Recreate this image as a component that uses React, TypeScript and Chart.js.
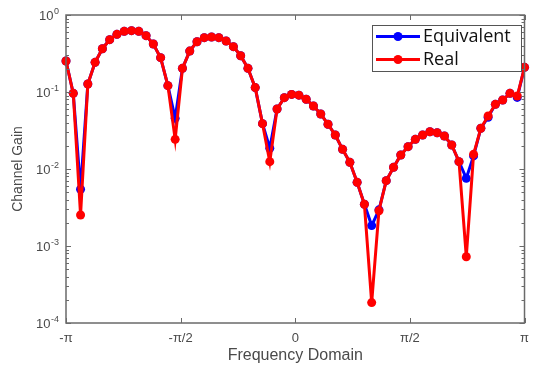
import React, { useEffect, useRef } from "react";
import { Chart, registerables } from "chart.js";

Chart.register(...registerables);

// Frequency grid: 64 uniform samples from -π to π
const sampleCount = 64;
const omega: number[] = Array.from({ length: sampleCount }, (_, k) => -Math.PI + (2 * Math.PI * k) / (sampleCount - 1));

const realGain: number[] = [
  0.253, 0.096, 0.00253, 0.127, 0.243, 0.365, 0.478, 0.561, 0.614, 0.626,
  0.614, 0.539, 0.42, 0.279, 0.121, 0.0243, 0.203, 0.34, 0.45, 0.508,
  0.518, 0.508, 0.46, 0.388, 0.296, 0.203, 0.114, 0.0388, 0.01245, 0.0602,
  0.0844, 0.093, 0.091, 0.0804, 0.0658, 0.0518, 0.0381, 0.0276, 0.018, 0.0122,
  0.00671, 0.00348, 0.000184, 0.00287, 0.00705, 0.0105, 0.0152, 0.0195, 0.0243, 0.0276,
  0.0305, 0.0296, 0.0268, 0.0205, 0.01245, 0.000726, 0.0155, 0.0338, 0.0488, 0.0692,
  0.0787, 0.096, 0.0887, 0.209,
];

const equivalentGain: number[] = [
  0.253, 0.096, 0.00545, 0.127, 0.243, 0.365, 0.478, 0.561, 0.614, 0.626,
  0.614, 0.539, 0.42, 0.279, 0.121, 0.0455, 0.203, 0.34, 0.45, 0.508,
  0.518, 0.508, 0.46, 0.388, 0.296, 0.203, 0.114, 0.0388, 0.0186, 0.0602,
  0.0844, 0.093, 0.091, 0.0804, 0.0658, 0.0518, 0.0381, 0.0276, 0.018, 0.0122,
  0.00671, 0.00348, 0.00184, 0.00295, 0.00705, 0.0105, 0.0152, 0.0195, 0.0243, 0.0276,
  0.0305, 0.0296, 0.0268, 0.0205, 0.01245, 0.00757, 0.0148, 0.0338, 0.047, 0.0692,
  0.0787, 0.096, 0.085, 0.209,
];

const seriesNames = ["Equivalent", "Real"];
const seriesColors = ["#0000ff", "#ff0000"];

const xTickValues = [-Math.PI, -Math.PI / 2, 0, Math.PI / 2, Math.PI];
const xTickLabels = ["-π", "-π/2", "0", "π/2", "π"];

const yMajorValues = [1e-4, 1e-3, 1e-2, 1e-1, 1];
const yMajorBase = ["10", "10", "10", "10", "10"];
const yMajorExponent = ["-4", "-3", "-2", "-1", "0"];

const textColor = "#4a4a4a";
const axisColor = "#6a6a6a";
const fontFamily = "'Liberation Sans', Arial, sans-serif";

function yAllTicks(): number[] {
  const out: number[] = [];
  for (let e = -4; e <= 0; e++) {
    const base = Math.pow(10, e);
    if (e === 0) { out.push(1); break; }
    for (let m = 1; m <= 9; m++) out.push(m * base);
  }
  return out;
}

const framePlugin = {
  id: "matlabFrame",
  afterDraw(chart: any) {
    const { ctx, chartArea } = chart;
    const { left, right, top, bottom } = chartArea;
    const ys = chart.scales.y;
    const xs = chart.scales.x;
    ctx.save();
    ctx.strokeStyle = axisColor;
    ctx.lineWidth = 1.5;
    ctx.strokeRect(left, top, right - left, bottom - top);
    ctx.lineWidth = 1;
    // y ticks (inward, both sides)
    for (const t of ys.ticks) {
      const v = t.value;
      const isMajor = yMajorValues.some((m) => Math.abs(Math.log10(m) - Math.log10(v)) < 1e-6);
      const len = isMajor ? 5 : 3;
      const py = Math.round(ys.getPixelForValue(v)) + 0.5;
      ctx.beginPath();
      ctx.moveTo(left, py);
      ctx.lineTo(left + len, py);
      ctx.moveTo(right, py);
      ctx.lineTo(right - len, py);
      ctx.stroke();
    }
    // x ticks (inward, top and bottom)
    for (const v of xTickValues) {
      const px = Math.round(xs.getPixelForValue(v)) + 0.5;
      ctx.beginPath();
      ctx.moveTo(px, bottom);
      ctx.lineTo(px, bottom - 5);
      ctx.moveTo(px, top);
      ctx.lineTo(px, top + 5);
      ctx.stroke();
    }
    // y tick labels with superscript exponents
    ctx.fillStyle = textColor;
    ctx.textAlign = "left";
    ctx.textBaseline = "alphabetic";
    yMajorValues.forEach((v, i) => {
      const py = ys.getPixelForValue(v);
      ctx.font = `9px ${fontFamily}`;
      const expW = ctx.measureText(yMajorExponent[i]).width;
      ctx.font = `13px ${fontFamily}`;
      const baseW = ctx.measureText(yMajorBase[i]).width;
      const xEnd = left - 7;
      const xStart = xEnd - expW - baseW - 0.5;
      ctx.fillText(yMajorBase[i], xStart, py + 5);
      ctx.font = `9px ${fontFamily}`;
      ctx.fillText(yMajorExponent[i], xStart + baseW + 0.5, py - 1.5);
    });
    ctx.restore();

    // Legend box inside the plot (top-right)
    const boxL = 372, boxT = 25, boxW = 149, boxH = 46;
    ctx.save();
    ctx.fillStyle = "#ffffff";
    ctx.fillRect(boxL, boxT, boxW, boxH);
    ctx.strokeStyle = "#555555";
    ctx.lineWidth = 1;
    ctx.strokeRect(boxL + 0.5, boxT + 0.5, boxW, boxH);
    const rows = [36.5, 59.5];
    chart.data.datasets.forEach((ds: any, i: number) => {
      const y = rows[i];
      ctx.strokeStyle = ds.borderColor;
      ctx.lineWidth = 3;
      ctx.beginPath();
      ctx.moveTo(boxL + 4, y);
      ctx.lineTo(boxL + 48, y);
      ctx.stroke();
      ctx.fillStyle = ds.borderColor;
      ctx.beginPath();
      ctx.arc(boxL + 26, y, 4.5, 0, Math.PI * 2);
      ctx.fill();
      ctx.fillStyle = "#111111";
      ctx.font = "18px 'Open Sans', 'DejaVu Sans', sans-serif";
      ctx.textBaseline = "middle";
      ctx.textAlign = "left";
      ctx.fillText(ds.label, boxL + 51, y + 0.5);
    });
    ctx.restore();
  },
};

export default function App() {
  const canvasRef = useRef<HTMLCanvasElement | null>(null);

  useEffect(() => {
    if (!canvasRef.current) return;
    const chart = new Chart(canvasRef.current, {
      type: "line",
      data: {
        datasets: [
          {
            label: seriesNames[0],
            data: omega.map((x, i) => ({ x, y: equivalentGain[i] })),
            borderColor: seriesColors[0],
            backgroundColor: seriesColors[0],
            borderWidth: 3,
            pointRadius: 4.5,
            pointHoverRadius: 4.5,
            pointBorderWidth: 0,
            tension: 0,
            order: 1,
            clip: false as any,
          },
          {
            label: seriesNames[1],
            data: omega.map((x, i) => ({ x, y: realGain[i] })),
            borderColor: seriesColors[1],
            backgroundColor: seriesColors[1],
            borderWidth: 3,
            pointRadius: 4.5,
            pointHoverRadius: 4.5,
            pointBorderWidth: 0,
            tension: 0,
            order: 0,
            clip: false as any,
          },
        ],
      },
      options: {
        animation: false,
        responsive: false,
        events: [],
        layout: { padding: { top: 15, right: 3, left: 0, bottom: 0 } },
        plugins: {
          legend: { display: false },
          tooltip: { enabled: false },
        },
        scales: {
          x: {
            type: "linear",
            min: -Math.PI,
            max: Math.PI,
            grid: { display: false, drawTicks: false },
            border: { display: false },
            afterBuildTicks: (scale: any) => {
              scale.ticks = xTickValues.map((v) => ({ value: v }));
            },
            afterFit: (scale: any) => {
              scale.height = 42;
            },
            ticks: {
              autoSkip: false,
              maxRotation: 0,
              padding: 8,
              color: textColor,
              font: { family: fontFamily, size: 13 },
              callback: (value: any) => {
                const idx = xTickValues.findIndex((v) => Math.abs(v - Number(value)) < 1e-9);
                return idx >= 0 ? xTickLabels[idx] : "";
              },
            },
            title: {
              display: true,
              text: "Frequency Domain",
              color: textColor,
              font: { family: fontFamily, size: 16 },
              padding: { top: 0, bottom: 0 },
            },
          },
          y: {
            type: "logarithmic",
            min: 1e-4,
            max: 1,
            grid: { display: false, drawTicks: false },
            border: { display: false },
            afterBuildTicks: (scale: any) => {
              scale.ticks = yAllTicks().map((v) => ({ value: v }));
            },
            afterFit: (scale: any) => {
              scale.width = 66;
            },
            ticks: {
              display: false,
              autoSkip: false,
            },
            title: {
              display: true,
              text: "Channel Gain",
              color: textColor,
              font: { family: fontFamily, size: 14 },
              padding: { top: 10, bottom: 0 },
            },
          },
        },
      },
      plugins: [framePlugin],
    });
    return () => chart.destroy();
  }, []);

  return (
    <div style={{ position: "absolute", left: 0, top: 0, width: 537, height: 365, background: "#ffffff" }}>
      <canvas ref={canvasRef} width={537} height={365} style={{ display: "block" }} />
    </div>
  );
}
